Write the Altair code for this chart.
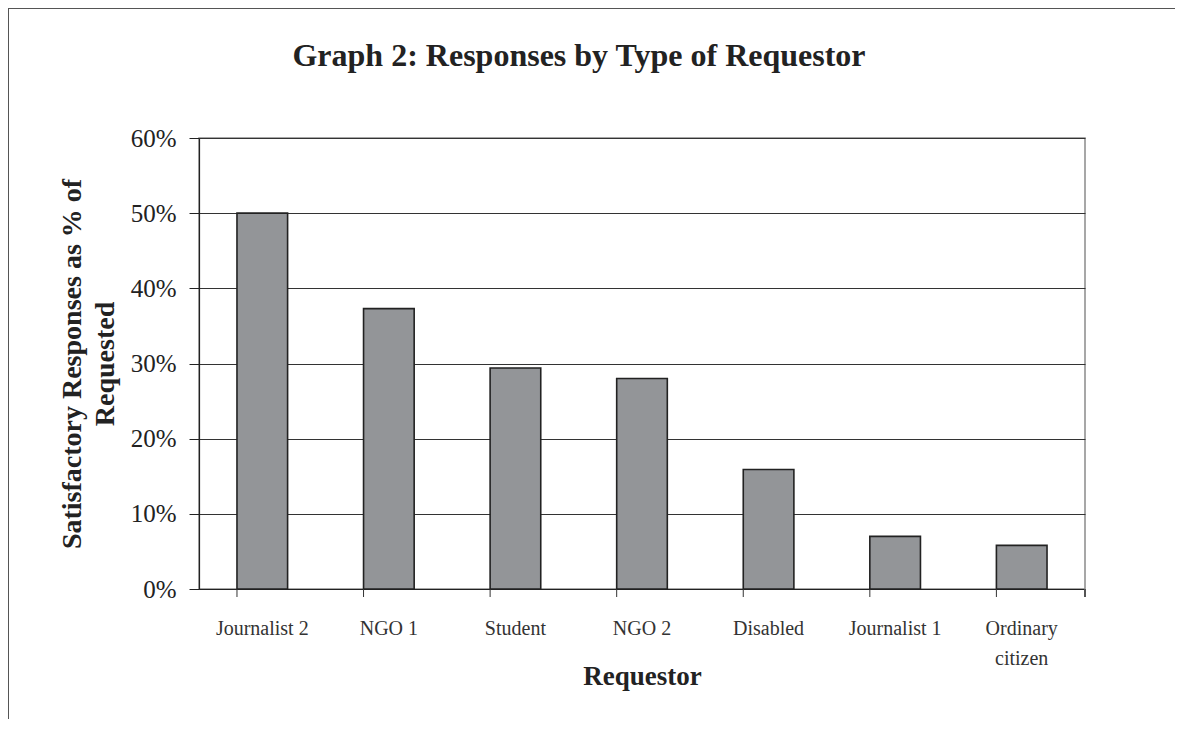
import altair as alt
import pandas as pd

categories = ["Journalist 2", "NGO 1", "Student", "NGO 2", "Disabled", "Journalist 1", "Ordinary citizen"]
values = [0.50, 0.373, 0.294, 0.28, 0.159, 0.07, 0.058]
y_ticks = [0, 0.1, 0.2, 0.3, 0.4, 0.5, 0.6]

df = pd.DataFrame({"Requestor": categories, "Share": values})

W, H = 886, 451
PAD_L, PAD_T, PAD_R, PAD_B = 191, 130, 90, 130

xscale = alt.Scale(domain=categories, paddingInner=0.6, paddingOuter=0.3)
yscale = alt.Scale(domain=[0, 0.6])

bars = alt.Chart(df).mark_bar(color="#939598", stroke="#222222", strokeWidth=1.6).encode(
    x=alt.X("Requestor:N", sort=categories, scale=xscale,
            axis=alt.Axis(title="Requestor", labelAngle=0, ticks=False,
                          labelExpr="datum.label == 'Ordinary citizen' ? ['Ordinary', 'citizen'] : datum.label",
                          labelFont="Liberation Serif", labelFontSize=20, labelColor="#333333",
                          labelPadding=29, labelLineHeight=30,
                          titleFont="Liberation Serif", titleFontSize=27, titleFontWeight="bold",
                          titleColor="#222222", titlePadding=-5)),
    y=alt.Y("Share:Q", scale=yscale,
            axis=alt.Axis(format=".0%", values=y_ticks, tickSize=10, labelPadding=13,
                          labelFont="Liberation Serif", labelFontSize=25, labelColor="#222222",
                          title=["Satisfactory Responses as % of", "Requested"],
                          titleFont="Liberation Serif", titleFontSize=28, titleFontWeight="bold",
                          titleColor="#222222", titleLineHeight=33, titlePadding=11,
                          grid=True, gridColor="#333333", gridWidth=1)),
)

ticks = alt.Chart(df).mark_rule(color="#333333", strokeWidth=1).encode(
    x=alt.X("Requestor:N", sort=categories, scale=xscale, bandPosition=0),
    y=alt.value(H),
    y2=alt.value(H + 8),
)

end_tick = alt.Chart(df).mark_rule(color="#555555", strokeWidth=1.5).encode(
    x=alt.value(W), y=alt.value(H), y2=alt.value(H + 8)
)

border_left = alt.Chart(df).mark_rule(color="#555555", strokeWidth=2, clip=False).encode(
    x=alt.value(-PAD_L), y=alt.value(-PAD_T), y2=alt.value(H + PAD_B)
)
border_top = alt.Chart(df).mark_rule(color="#555555", strokeWidth=2, clip=False).encode(
    x=alt.value(-PAD_L), x2=alt.value(W + PAD_R), y=alt.value(-PAD_T)
)

chart = alt.layer(bars, ticks, end_tick, border_left, border_top).properties(
    width=W, height=H,
    autosize=alt.AutoSizeParams(type="none"),
    padding={"left": PAD_L, "top": PAD_T, "right": PAD_R, "bottom": PAD_B},
    title=alt.TitleParams("Graph 2: Responses by Type of Requestor", font="Liberation Serif",
                          fontSize=32, fontWeight="bold", color="#222222", anchor="middle",
                          dx=-63, offset=-91, baseline="alphabetic"),
).configure_view(stroke="#8a8a8a", strokeWidth=1.5).configure_axis(
    domainColor="#222222", tickColor="#222222", domainWidth=1.2
)

chart.save("out.html", embed_options={"renderer": "svg", "actions": False})
